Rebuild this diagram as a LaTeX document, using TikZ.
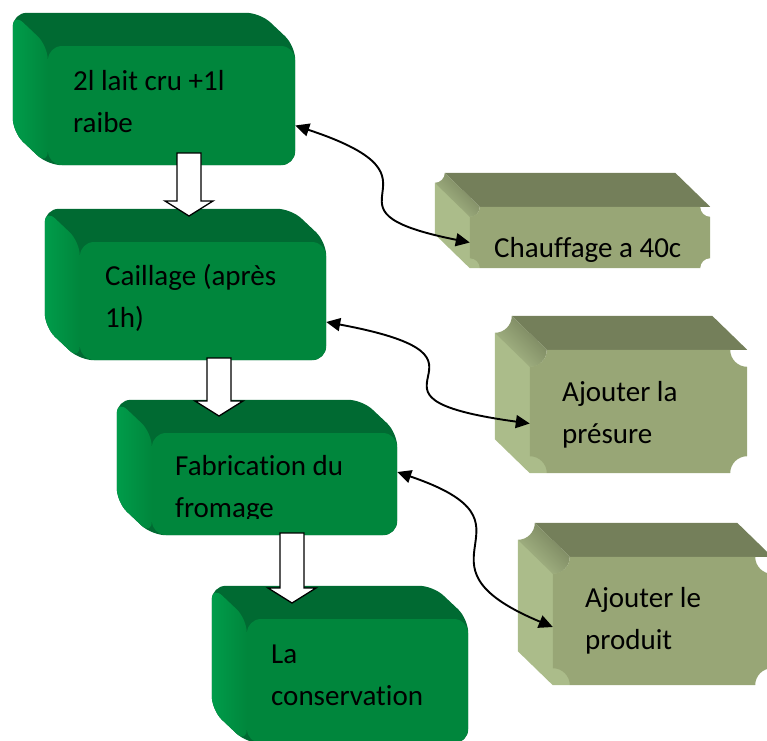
\documentclass[tikz,border=0pt]{standalone}
\usepackage{fontspec}
\setmainfont[Ligatures=NoCommon]{Carlito}
\usetikzlibrary{arrows.meta,backgrounds}
\definecolor{greenfront}{RGB}{0,134,60}
\definecolor{greentop}{RGB}{0,106,50}
\definecolor{greenside}{RGB}{0,156,74}
\definecolor{olivefront}{RGB}{152,166,118}
\definecolor{olivetop}{RGB}{116,127,90}
\definecolor{oliveside}{RGB}{171,188,138}

% depth faces of a green block, behind its front face
\newcommand{\greendepth}[1]{%
  \begin{pgfonlayer}{background}
    \fill[greentop,rounded corners=14pt]
      ([shift={(-35,-33)}]#1.north west) -- ([shift={(-35,-33)}]#1.north east)
      -- (#1.north east) -- (#1.south east) -- (#1.south west)
      -- ([shift={(-35,-33)}]#1.south west) -- cycle;
    \shade[left color=greenside,right color=greenfront,rounded corners=14pt]
      ([shift={(-35,-33)}]#1.north west) -- (#1.north west)
      -- (#1.south west) -- ([shift={(-35,-33)}]#1.south west) -- cycle;
  \end{pgfonlayer}}

% depth faces of an olive block; #2 is the notch radius
\newcommand{\olivedepth}[2]{%
  \begin{pgfonlayer}{background}
    \fill[olivetop]
      ([shift={(-35+#2,-34)}]#1.north west) -- ([shift={(-35,-34)}]#1.north east)
      -- (#1.north east) -- ([xshift=#2pt]#1.north west) -- cycle;
    \fill[oliveside]
      ([shift={(-35,-34+#2)}]#1.north west) -- ([shift={(#2,#2)}]#1.north west)
      -- ([xshift=#2pt]#1.south west) -- (#1.south west)
      -- ([shift={(-35,-34)}]#1.south west) -- cycle;
    \shade[top color=olivetop,bottom color=oliveside,shading angle=-45]
      ([shift={(-35+#2,-34)}]#1.north west) -- ([xshift=#2pt]#1.north west)
      arc[start angle=0,end angle=-90,radius=#2pt]
      -- ([shift={(-35,-34+#2)}]#1.north west)
      arc[start angle=-90,end angle=0,radius=#2pt] -- cycle;
  \end{pgfonlayer}}

% front face of an olive block with concave corners
\newcommand{\notchedfront}[2]{%
  \fill[olivefront] ([xshift=#2pt]#1.north west) -- ([xshift=-#2pt]#1.north east)
    arc[start angle=180,end angle=270,radius=#2pt]
    -- ([yshift=#2pt]#1.south east)
    arc[start angle=90,end angle=180,radius=#2pt]
    -- ([xshift=#2pt]#1.south west)
    arc[start angle=0,end angle=90,radius=#2pt]
    -- ([yshift=-#2pt]#1.north west)
    arc[start angle=270,end angle=360,radius=#2pt] -- cycle;}

\begin{document}
\begin{tikzpicture}[x=1pt,y=-1pt,
    greenface/.style={rectangle,rounded corners=14pt,fill=greenfront,inner sep=0pt},
    oliveface/.style={rectangle,inner sep=0pt},
    boxtext/.style={anchor=base west,align=left,inner sep=0pt,
      font=\fontsize{29}{42}\selectfont},
    link/.style={line width=1.9pt,
      {Triangle[length=14pt,width=13pt]}-{Triangle[length=14pt,width=13pt]}},
    pics/blockdown/.style={code={
      \draw[line width=1.3pt,fill=white,line join=miter]
        (-12,0) -- (12,0) -- (12,#1) -- (24,#1) -- (0,#1+15)
        -- (-24,#1) -- (-12,#1) -- cycle;}}]
  \useasboundingbox (0,0) rectangle (767,740);

  % main steps
  \node[greenface,minimum width=247pt,minimum height=119pt] (lait) at (171.5,105.5) {};
  \greendepth{lait}
  \node[greenface,minimum width=246pt,minimum height=118pt] (caille) at (203,301) {};
  \greendepth{caille}
  \node[greenface,minimum width=245pt,minimum height=102pt] (fabri) at (274.5,484) {};
  \greendepth{fabri}
  \node[greenface,minimum width=221pt,minimum height=124pt] (conserv) at (357.5,681) {};
  \greendepth{conserv}

  % text nodes sit on the baseline of their last line
  \node[boxtext] (tlait) at (73,132) {2l lait cru +1l\\raibe};
  \node[boxtext] (tcaille) at (105,327) {Caillage (après\\1h)};
  \begin{scope}
    \clip (fabri.north west) rectangle ([yshift=17pt]fabri.south east);
    \node[boxtext] (tfabri) at (175,517) {Fabrication du\\fromage};
  \end{scope}
  \node[boxtext] (tconserv) at (271,705) {La\\conservation};

  % side operations
  \node[oliveface,minimum width=240pt,minimum height=61pt] (chauf) at (590,237.5) {};
  \olivedepth{chauf}{10}
  \notchedfront{chauf}{10}
  \node[oliveface,minimum width=217pt,minimum height=123pt] (presure) at (638.5,411.5) {};
  \olivedepth{presure}{17}
  \notchedfront{presure}{17}
  \node[oliveface,minimum width=219pt,minimum height=128pt] (produit) at (662.5,621) {};
  \olivedepth{produit}{17}
  \notchedfront{produit}{17}

  \node[boxtext] (tchauf) at (494,257) {Chauffage a 40c};
  \node[boxtext] (tpresure) at (562,443) {Ajouter la\\présure};
  \node[boxtext] (tproduit) at (585,649) {Ajouter le\\produit};

  % flow arrows
  \pic at (189,153) {blockdown=48};
  \pic at (219,358) {blockdown=43};
  \pic at (292,533) {blockdown=55};

  % curved links
  \draw[link] ([yshift=-20pt]lait.east) .. controls +(170,56) and +(-170,-34)
    .. ([yshift=-5pt]chauf.west);
  \draw[link] ([yshift=-21pt]caille.east) .. controls +(204,38) and +(-204,-28)
    .. ([yshift=-12pt]presure.west);
  \draw[link] ([yshift=12pt]fabri.east) .. controls +(156,53) and +(-156,-65)
    .. ([yshift=-6pt]produit.west);
\end{tikzpicture}
\end{document}
